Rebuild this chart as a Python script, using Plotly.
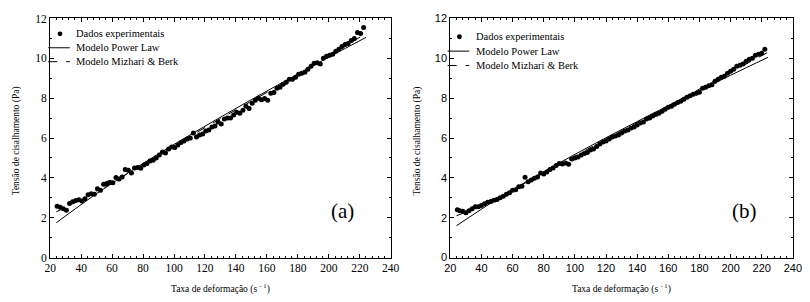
import plotly.graph_objects as go
from plotly.subplots import make_subplots

# ---------------- data ----------------
xa = [24.5, 26.5, 28.5, 30.5, 32.5, 34.5, 36.5, 38.5, 40.5, 42.5, 44.5, 46.5, 48.5, 50.5,
      52.5, 54.5, 56.5, 58.5, 60.5, 62.5, 64.5, 66.5, 68.5, 70.5, 72.5, 74.5, 76.5, 78.5,
      80.5, 82.5, 84.5, 86.5, 88.5, 90.5, 92.5, 94.5, 96.5, 98.5, 100.5, 102.5, 104.5,
      106.5, 108.5, 110.5, 112.5, 114.5, 116.5, 118.5, 120.5, 122.5, 124.5, 126.5, 128.5,
      130.5, 132.5, 134.5, 136.5, 138.5, 140.5, 142.5, 144.5, 146.5, 148.5, 150.5, 152.5,
      154.5, 156.5, 158.5, 160.5, 162.5, 164.5, 166.5, 168.5, 170.5, 172.5, 174.5, 176.5,
      178.5, 180.5, 182.5, 184.5, 186.5, 188.5, 190.5, 192.5, 194.5, 196.5, 198.5, 200.5,
      202.5, 204.5, 206.5, 208.5, 210.5, 212.5, 214.5, 216.5, 218.5, 220.5, 222.5]
ya = [2.58, 2.52, 2.45, 2.38, 2.72, 2.80, 2.86, 2.90, 2.84, 2.95, 3.15, 3.20, 3.18, 3.45,
      3.38, 3.68, 3.72, 3.78, 3.75, 4.02, 3.95, 4.05, 4.42, 4.38, 4.25, 4.50, 4.52, 4.48,
      4.65, 4.72, 4.85, 4.88, 5.00, 5.15, 5.30, 5.25, 5.45, 5.55, 5.52, 5.65, 5.78,
      5.85, 5.95, 6.00, 6.25, 6.05, 6.15, 6.20, 6.35, 6.40, 6.55, 6.60, 6.80,
      6.70, 6.95, 7.00, 7.00, 7.15, 7.30, 7.25, 7.40, 7.60, 7.48, 7.75, 7.90,
      8.00, 7.92, 7.98, 7.90, 8.25, 8.28, 8.50, 8.55, 8.70, 8.80, 8.95, 8.95,
      9.05, 9.20, 9.25, 9.30, 9.45, 9.60, 9.75, 9.78, 9.72, 10.00, 10.10, 10.15,
      10.20, 10.35, 10.45, 10.60, 10.70, 10.75, 10.90, 11.00, 11.30, 11.25, 11.55]

xb = [24.5, 26, 28, 30, 32, 34, 36, 38, 40, 42, 44, 46, 48, 50, 52, 54, 56, 58, 60, 62, 64,
      66, 68, 70, 72, 74, 76, 78, 80, 82, 84, 86, 88, 90, 92, 94, 96, 98, 100, 102, 104,
      106, 108, 110, 112, 114, 116, 118, 120, 122, 124, 126, 128, 130, 132, 134, 136, 138,
      140, 142, 144, 146, 148, 150, 152, 154, 156, 158, 160, 162, 164, 166, 168, 170, 172,
      174, 176, 178, 180, 182, 184, 186, 188, 190, 192, 194, 196, 198, 200, 202, 204, 206,
      208, 210, 212, 214, 216, 218, 220, 222]
yb = [2.40, 2.35, 2.33, 2.25, 2.35, 2.45, 2.55, 2.55, 2.62, 2.70, 2.78, 2.82, 2.88, 2.92,
      3.00, 3.08, 3.18, 3.25, 3.38, 3.40, 3.55, 3.58, 4.03, 3.80, 3.90, 3.98, 4.05, 4.25,
      4.20, 4.30, 4.42, 4.50, 4.62, 4.72, 4.70, 4.75, 4.68, 4.95, 5.00, 5.05, 5.15, 5.22,
      5.28, 5.40, 5.45, 5.58, 5.70, 5.80, 5.85, 5.95, 6.05, 6.10, 6.15, 6.25, 6.35, 6.40,
      6.50, 6.55, 6.65, 6.75, 6.80, 6.95, 7.00, 7.10, 7.18, 7.25, 7.35, 7.45, 7.55, 7.60,
      7.70, 7.78, 7.85, 7.95, 8.05, 8.12, 8.20, 8.25, 8.30, 8.50, 8.55, 8.62, 8.68, 8.85,
      8.95, 9.05, 9.10, 9.25, 9.35, 9.45, 9.60, 9.65, 9.72, 9.85, 9.95, 10.00, 10.15,
      10.20, 10.25, 10.45]

model_x = [24, 50, 75, 100, 125, 150, 175, 200, 224]
pl_a = [1.75, 3.21, 4.48, 5.68, 6.82, 7.93, 9.00, 10.06, 11.05]
mb_a = [2.30, 3.30, 4.45, 5.60, 6.75, 7.85, 8.95, 10.10, 11.25]
pl_b = [1.60, 2.93, 4.09, 5.18, 6.22, 7.23, 8.20, 9.15, 10.05]
mb_b = [2.10, 2.95, 4.05, 5.10, 6.15, 7.20, 8.25, 9.30, 10.30]

x_ticks = [20, 40, 60, 80, 100, 120, 140, 160, 180, 200, 220, 240]
y_ticks = [0, 2, 4, 6, 8, 10, 12]
names = ["Dados experimentais", "Modelo Power Law", "Modelo Mizhari & Berk"]
panel_labels = ["(a)", "(b)"]
y_title = "Tensão de cisalhamento (Pa)"
x_title = "Taxa de deformação (s <sup>- 1</sup>)"

W, H = 810, 302
SERIF = "Liberation Serif, Times New Roman, serif"
SANS = "Liberation Sans, Arial, sans-serif"

fig = make_subplots(rows=1, cols=2)

panels = [(xa, ya, pl_a, mb_a), (xb, yb, pl_b, mb_b)]
for i, (xd, yd, pl, mb) in enumerate(panels):
    c = i + 1
    fig.add_trace(go.Scatter(x=xd, y=yd, mode="markers", name=names[0], showlegend=False,
                             marker=dict(color="black", size=5, symbol="circle")), row=1, col=c)
    fig.add_trace(go.Scatter(x=model_x, y=pl, mode="lines", name=names[1], showlegend=False,
                             line=dict(color="black", width=1, shape="spline")), row=1, col=c)
    fig.add_trace(go.Scatter(x=model_x, y=mb, mode="lines", name=names[2], showlegend=False,
                             line=dict(color="black", width=1, dash="dash", shape="spline")),
                  row=1, col=c)

dom_x = [[45 / W, 392 / W], [452.7 / W, 801.7 / W]]
dom_y = [1 - 262 / H, 1 - 13 / H]
tick_fonts = [dict(family=SERIF, size=11.5, color="black"),
              dict(family=SANS, size=11, color="black")]
for i in range(2):
    c = i + 1
    fig.update_xaxes(domain=dom_x[i], range=[20, 240], tickvals=x_ticks,
                     ticks="inside", ticklen=4, tickcolor="black", showline=True,
                     linecolor="black", linewidth=1, mirror="ticks", showgrid=False,
                     zeroline=False, tickfont=tick_fonts[i],
                     minor=dict(ticks="inside", dtick=4, ticklen=2, tickcolor="black"),
                     row=1, col=c)
    fig.update_yaxes(domain=dom_y, range=[0, 12], tickvals=y_ticks,
                     ticks="inside", ticklen=4, tickcolor="black", showline=True,
                     linecolor="black", linewidth=1, mirror="ticks", showgrid=False,
                     zeroline=False, tickfont=tick_fonts[i],
                     minor=dict(ticks="inside", dtick=1, ticklen=2, tickcolor="black"),
                     row=1, col=c)

annotations = []
shapes = []
# legend geometry (pixels): [dot x, line x0, line x1, text x, row ys]
leg_geo = [(55, 43, 65, 69, [29, 43.5, 58]), (462, 450, 472, 477, [32, 47, 62])]
for i in range(2):
    xref = "x" if i == 0 else "x2"
    yref = "y" if i == 0 else "y2"
    annotations.append(dict(x=209, y=2.35, xref=xref, yref=yref, text=panel_labels[i],
                            xanchor="center", yanchor="middle",
                            showarrow=False, font=dict(family=SERIF, size=21, color="black")))
    x0, x1 = dom_x[i]
    annotations.append(dict(x=(x0 + x1) / 2, y=1 - 294 / H, xref="paper", yref="paper",
                            text=x_title, showarrow=False, xanchor="center", yanchor="middle",
                            font=dict(family=SERIF, size=9.5, color="black")))
    annotations.append(dict(x=x0 - 34 / W, y=1 - 140 / H, xref="paper",
                            yref="paper", text=y_title, textangle=-90, showarrow=False,
                            xanchor="center", yanchor="middle",
                            font=dict(family=SERIF, size=9.5, color="black")))
    dx, lx0, lx1, tx, rows = leg_geo[i]
    for j, nm in enumerate(names):
        annotations.append(dict(x=tx / W, y=1 - rows[j] / H, xref="paper", yref="paper",
                                text=nm, showarrow=False, xanchor="left", yanchor="middle",
                                font=dict(family=SERIF, size=10.5, color="black")))
    shapes.append(dict(type="circle", xref="paper", yref="paper",
                       x0=(dx - 2.5) / W, x1=(dx + 2.5) / W,
                       y0=1 - (rows[0] + 2.5) / H, y1=1 - (rows[0] - 2.5) / H,
                       fillcolor="black", line=dict(color="black", width=0)))
    shapes.append(dict(type="line", xref="paper", yref="paper", x0=lx0 / W, x1=lx1 / W,
                       y0=1 - rows[1] / H, y1=1 - rows[1] / H,
                       line=dict(color="black", width=1)))
    shapes.append(dict(type="line", xref="paper", yref="paper", x0=lx0 / W, x1=lx1 / W,
                       y0=1 - rows[2] / H, y1=1 - rows[2] / H,
                       line=dict(color="black", width=1, dash="dash")))

fig.update_layout(
    width=W, height=H, margin=dict(l=0, r=0, t=0, b=0),
    paper_bgcolor="white", plot_bgcolor="white", showlegend=False,
    annotations=annotations, shapes=shapes,
)

fig.write_html("out.html", config={"displayModeBar": False},
               post_script="document.body.style.margin='0';document.body.style.overflow='hidden';")
